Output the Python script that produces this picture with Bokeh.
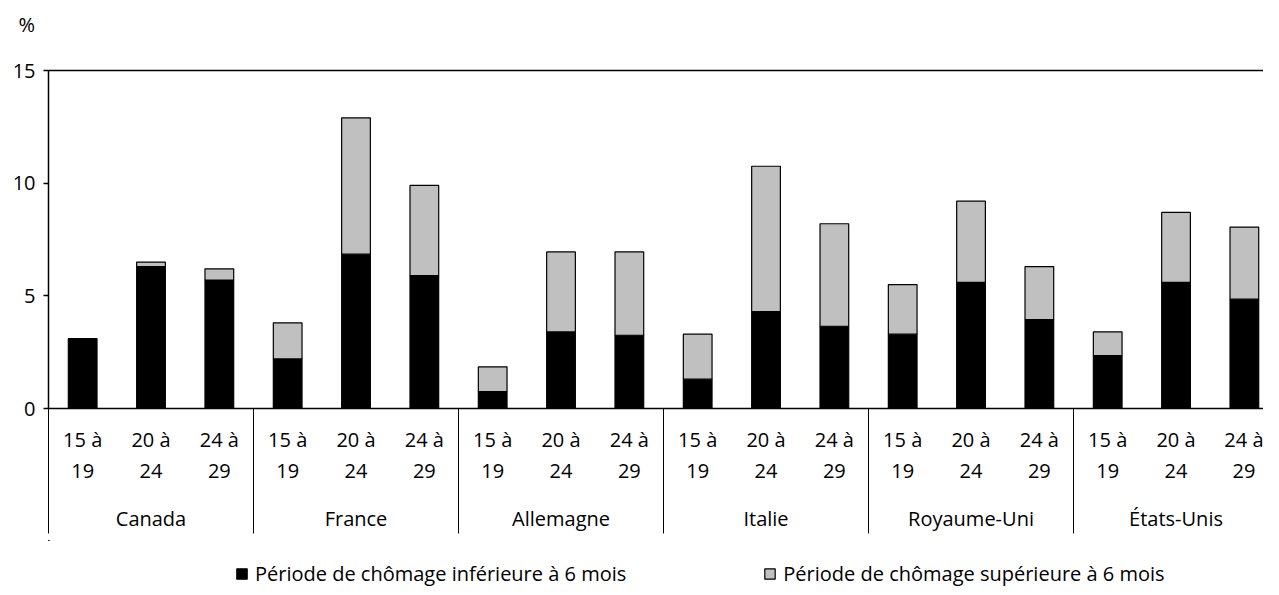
from bokeh.plotting import figure
from bokeh.layouts import column
from bokeh.models import (ColumnDataSource, FixedTicker, LinearAxis, Range1d,
                          Legend, LegendItem)
from bokeh.embed import file_html
from bokeh.resources import INLINE

countries = ["Canada", "France", "Allemagne", "Italie", "Royaume-Uni", "États-Unis"]
age_groups = ["15 à\n19", "20 à\n24", "24 à\n29"]
series_names = ["Période de chômage inférieure à 6 mois",
                "Période de chômage supérieure à 6 mois"]
short_term = [3.1, 6.3, 5.7,
              2.2, 6.85, 5.9,
              0.75, 3.4, 3.25,
              1.3, 4.3, 3.65,
              3.3, 5.6, 3.95,
              2.35, 5.6, 4.85]
long_term = [0.0, 0.2, 0.5,
             1.6, 6.05, 4.0,
             1.1, 3.55, 3.7,
             2.0, 6.45, 4.55,
             2.2, 3.6, 2.35,
             1.05, 3.1, 3.2]
y_ticks = [0, 5, 10, 15]
unit_label = "%"

FONT = "Open Sans"
FS = "20px"
COLORS = ["#000000", "#C0C0C0"]
W = 1263

n_age = len(age_groups)
xs = [i + 0.5 for i in range(len(short_term))]
group_centers = [g * n_age + n_age / 2 for g in range(len(countries))]
group_bounds = [g * n_age for g in range(len(countries) + 1)]

source = ColumnDataSource(dict(x=xs, short=short_term, long=long_term))


def bare(height, **kw):
    f = figure(width=W, height=height, output_backend="svg", toolbar_location=None,
               x_axis_type=None, y_axis_type=None, **kw)
    f.grid.visible = False
    f.outline_line_color = None
    return f


# unit strip ("%")
pt = bare(47, min_border_left=48, min_border_right=0, min_border_top=0, min_border_bottom=0)
pt.title.text = unit_label
pt.title.align = "left"
pt.title.offset = -30
pt.title.text_font = FONT
pt.title.text_font_size = FS
pt.title.text_font_style = "normal"
pt.title.text_color = "black"
pt.title.standoff = 20

# main chart
p = bare(493, x_range=Range1d(0, 17.78), y_range=Range1d(0, 15),
         min_border_left=48, min_border_right=0, min_border_top=23, min_border_bottom=132)
p.background_fill_color = "white"

p.vbar_stack(["short", "long"], x="x", width=0.42, source=source,
             fill_color=COLORS, line_color="black", line_width=1.2)

yaxis = LinearAxis(ticker=FixedTicker(ticks=y_ticks),
                   major_tick_out=5, major_tick_in=0,
                   minor_tick_out=0, minor_tick_in=0,
                   axis_line_color="black", axis_line_width=1.5,
                   major_tick_line_color="black", major_tick_line_width=1.5,
                   major_label_standoff=8,
                   major_label_text_font=FONT, major_label_text_font_size=FS,
                   major_label_text_color="black")
p.add_layout(yaxis, "left")

top_axis = LinearAxis(ticker=FixedTicker(ticks=[]), major_tick_out=0, major_tick_in=0,
                      minor_tick_out=0, minor_tick_in=0, major_label_standoff=0,
                      axis_line_color="black", axis_line_width=1.5,
                      major_label_text_font_size="0px")
p.add_layout(top_axis, "above")

age_labels = {x: age_groups[i % n_age] for i, x in enumerate(xs)}
age_axis = LinearAxis(ticker=FixedTicker(ticks=xs, minor_ticks=group_bounds),
                      major_label_overrides=age_labels,
                      major_tick_out=0, major_tick_in=0,
                      minor_tick_out=125, minor_tick_in=0,
                      minor_tick_line_color="black", minor_tick_line_width=1,
                      axis_line_color="black", axis_line_width=1.5,
                      major_label_standoff=-108,
                      major_label_text_font=FONT, major_label_text_font_size=FS,
                      major_label_text_color="black",
                      major_label_text_line_height=1.15)
p.add_layout(age_axis, "below")

country_labels = {x: countries[i] for i, x in enumerate(group_centers)}
country_axis = LinearAxis(ticker=FixedTicker(ticks=group_centers),
                          major_label_overrides=country_labels,
                          major_tick_out=0, major_tick_in=0,
                          minor_tick_out=0, minor_tick_in=0,
                          axis_line_color=None,
                          major_label_standoff=18,
                          major_label_text_font=FONT, major_label_text_font_size=FS,
                          major_label_text_color="black")
p.add_layout(country_axis, "below")

# legend strip (same series, viewed far outside their range so only the legend shows)
pl = bare(47, x_range=Range1d(1000, 1017.78), y_range=Range1d(-1000, -999),
          min_border_left=48, min_border_right=0, min_border_top=0, min_border_bottom=0)
leg_r = pl.vbar_stack(["short", "long"], x="x", width=0.42, source=source,
                      fill_color=COLORS, line_color="black", line_width=1.2)
legend = Legend(items=[LegendItem(label=series_names[0], renderers=[leg_r[0]]),
                       LegendItem(label=series_names[1], renderers=[leg_r[1]])],
                orientation="horizontal", location=(187, 0),
                glyph_width=13, glyph_height=13, label_standoff=7, spacing=137,
                label_text_font=FONT, label_text_font_size=FS, label_text_color="black",
                border_line_color=None, background_fill_alpha=0,
                padding=0, margin=0)
pl.add_layout(legend, "center")

layout = column(pt, p, pl, spacing=0)
open("out.html", "w").write(file_html(layout, INLINE))
